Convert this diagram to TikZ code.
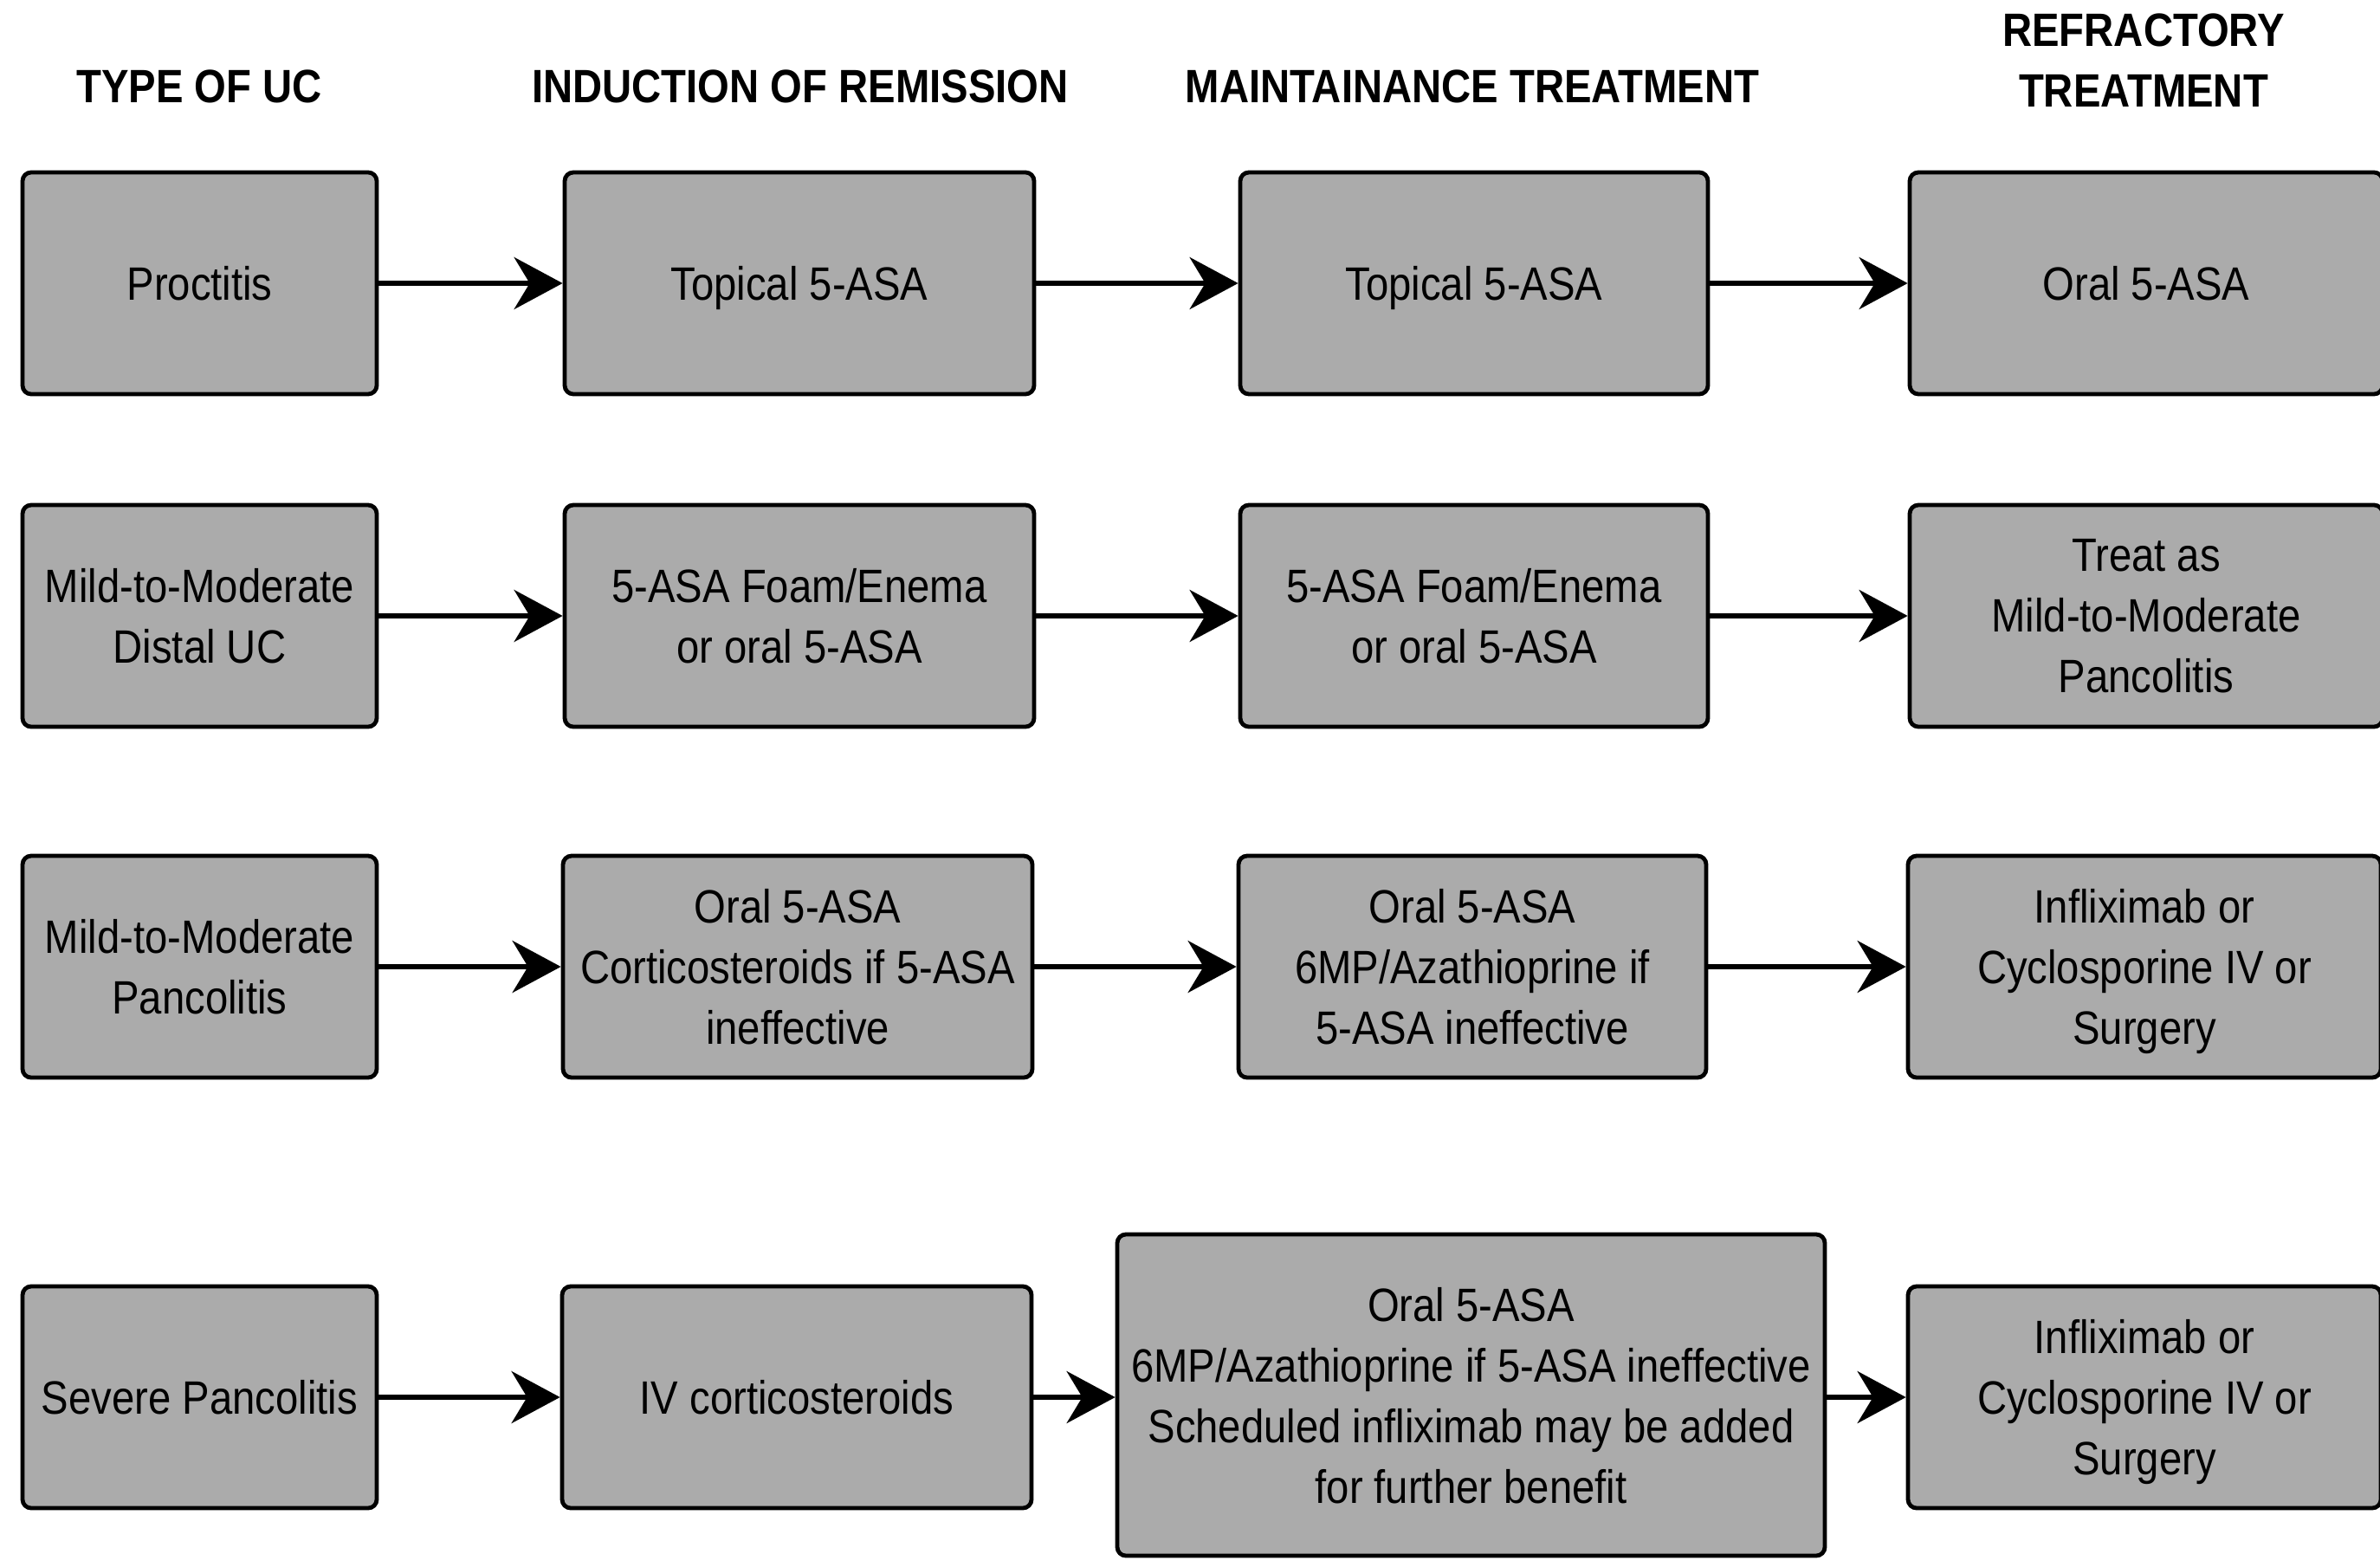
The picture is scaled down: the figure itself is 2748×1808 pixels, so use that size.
\documentclass[tikz,border=0pt]{standalone}
\usepackage{fontspec}
\setmainfont[FakeStretch=0.875]{Liberation Sans}
\usetikzlibrary{arrows.meta}
\definecolor{boxgray}{RGB}{171,171,171}
\begin{document}
\begin{tikzpicture}[x=0.25pt,y=-0.25pt,
  box/.style={draw=black, line width=1.2pt, fill=boxgray, rounded corners=2.5pt,
    align=center, font=\fontsize{13.5}{17.5}\selectfont, inner sep=0pt, minimum height=64pt,
    text depth=0pt},
  w1/.style={minimum width=102.25pt},
  w2/.style={minimum width=135.5pt},
  w3/.style={minimum width=135pt},
  w4/.style={minimum width=136.5pt},
  hdr/.style={font=\bfseries\fontsize{13.5}{17.5}\selectfont, align=center, inner sep=0pt},
  arr/.style={-{Stealth[length=14pt,width=15pt,inset=4.5pt]}, line width=1.4pt}]
\useasboundingbox (0,0) rectangle (2748,1808);
\fill[white] (0,0) rectangle (2748,1808);
\clip (0,0) rectangle (2748,1808);
% headers
\node[hdr] (h1) at (230,100) {TYPE OF UC};
\node[hdr] (h2) at (924,100) {INDUCTION OF REMISSION};
\node[hdr] (h3) at (1700,100) {MAINTAINANCE TREATMENT};
\node[hdr] (h4) at (2475,70) {REFRACTORY\\TREATMENT};
% row 1
\node[box,w1] (a1) at (230.5,327) {Proctitis};
\node[box,w2] (a2) at (923,327) {Topical 5-ASA};
\node[box,w3] (a3) at (1702,327) {Topical 5-ASA};
\node[box,w4] (a4) at (2478,327) {Oral 5-ASA};
% row 2
\node[box,w1] (b1) at (230.5,711) {Mild-to-Moderate\\Distal UC};
\node[box,w2] (b2) at (923,711) {5-ASA Foam/Enema\\or oral 5-ASA};
\node[box,w3] (b3) at (1702,711) {5-ASA Foam/Enema\\or oral 5-ASA};
\node[box,w4] (b4) at (2478,711) {Treat as\\Mild-to-Moderate\\Pancolitis};
% row 3
\node[box,w1] (c1) at (230.5,1116) {Mild-to-Moderate\\Pancolitis};
\node[box,w2] (c2) at (921,1116) {Oral 5-ASA\\Corticosteroids if 5-ASA\\ineffective};
\node[box,w3] (c3) at (1700,1116) {Oral 5-ASA\\6MP/Azathioprine if\\5-ASA ineffective};
\node[box,w4] (c4) at (2476,1116) {Infliximab or\\Cyclosporine IV or\\Surgery};
% row 4
\node[box,w1] (d1) at (230.5,1613) {Severe Pancolitis};
\node[box,w2] (d2) at (920,1613) {IV corticosteroids};
\node[box,minimum width=204.25pt,minimum height=92.75pt] (d3) at (1698.5,1610.5)
  {Oral 5-ASA\\6MP/Azathioprine if 5-ASA ineffective\\Scheduled infliximab may be added\\for further benefit};
\node[box,w4] (d4) at (2476,1613) {Infliximab or\\Cyclosporine IV or\\Surgery};
% arrows
\draw[arr] (a1) -- (a2);
\draw[arr] (a2) -- (a3);
\draw[arr] (a3) -- (a4);
\draw[arr] (b1) -- (b2);
\draw[arr] (b2) -- (b3);
\draw[arr] (b3) -- (b4);
\draw[arr] (c1) -- (c2);
\draw[arr] (c2) -- (c3);
\draw[arr] (c3) -- (c4);
\draw[arr] (d1) -- (d2);
\draw[arr] (d2) -- (d3.west |- d2.east);
\draw[arr] (d3.east |- d4.west) -- (d4);
\end{tikzpicture}
\end{document}
